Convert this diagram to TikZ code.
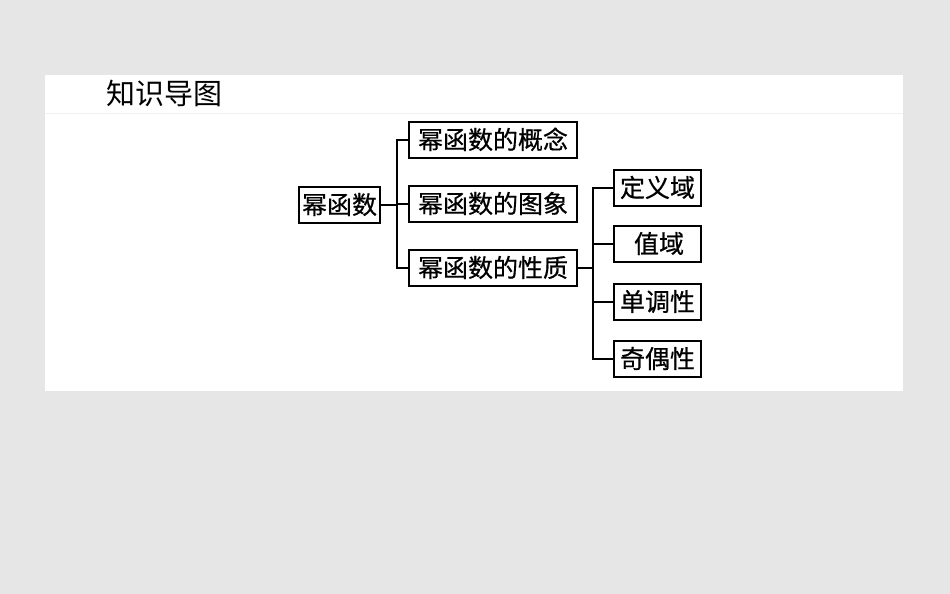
\documentclass[tikz,border=0pt]{standalone}
\usepackage{fontspec}
\newfontfamily\cjk{Noto Sans CJK SC}
\newfontfamily\cjkbox[BoldFont={Noto Sans CJK SC}, BoldFeatures={FakeBold=0.6}]{Noto Sans CJK SC}
\definecolor{bggrey}{HTML}{E6E6E6}
\definecolor{faint}{HTML}{F0F0F0}
\tikzset{
  box/.style={draw=black, line width=1.8pt, fill=white, inner sep=0pt,
    minimum height=36pt, font=\cjkbox\fontsize{25}{30}\selectfont\bfseries,
    text height=21.5pt, text depth=3.5pt},
  link/.style={draw=black, line width=1.5pt},
}
\begin{document}
\begin{tikzpicture}[x=1pt,y=-1pt]
\useasboundingbox (0,0) rectangle (950,594);
\fill[bggrey] (0,0) rectangle (950,594);
\fill[white] (45,75) rectangle (903,391);
\draw[faint, line width=0.8pt] (45,113) -- (903,113);
\node[font=\cjk\fontsize{29}{34}\selectfont, anchor=west, inner sep=0pt,
      text height=25pt, text depth=4pt] (title) at (106,94) {知识导图};

\node[box, minimum width=81pt] (root) at (339.5,205) {幂函数};
\node[box, minimum width=168pt] (c1) at (493,140) {幂函数的概念};
\node[box, minimum width=168pt] (c2) at (493,204) {幂函数的图象};
\node[box, minimum width=168pt] (c3) at (493,268) {幂函数的性质};

\node[box, minimum width=87pt] (d1) at (657.5,188) {定义域};
\node[box, minimum width=87pt] (d2) at (657.5,244) {\hspace*{3pt}值域};
\node[box, minimum width=87pt] (d3) at (657.5,302) {单调性};
\node[box, minimum width=87pt] (d4) at (657.5,359) {奇偶性};

\coordinate (j1) at (397,205);
\coordinate (j2) at (593,268);
\draw[link] (root.east) -- (j1);
\draw[link] (c1.west) -| (j1);
\draw[link] (c2.west) -- (c2.west -| j1);
\draw[link] (c3.west) -| (j1);

\draw[link] (c3.east) -- (j2);
\draw[link] (d1.west) -| (j2);
\draw[link] (d2.west) -| (j2);
\draw[link] (d3.west) -| (j2);
\draw[link] (d4.west) -| (j2);
\end{tikzpicture}
\end{document}
